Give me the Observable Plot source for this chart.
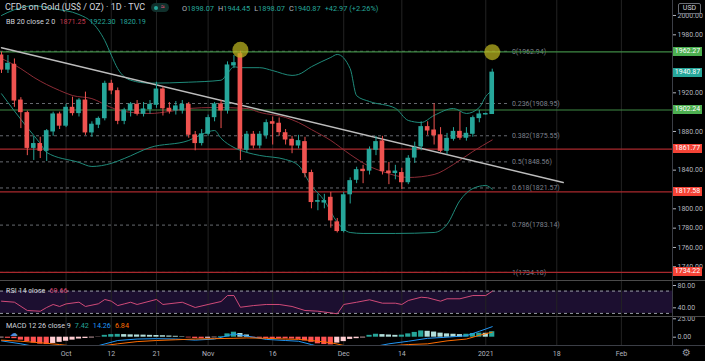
<!DOCTYPE html>
<html><head><meta charset="utf-8">
<script src="https://cdn.jsdelivr.net/npm/d3@7"></script>
<script src="https://cdn.jsdelivr.net/npm/@observablehq/plot@0.6"></script>
<style>
html,body{margin:0;padding:0;background:#000;width:705px;height:361px;overflow:hidden;}
#wrap{position:relative;width:705px;height:361px;background:#000;overflow:hidden;font-family:Roboto,"DejaVu Sans",sans-serif;}
#wrap svg{position:absolute;left:0;display:block;}
.lg{position:absolute;white-space:nowrap;color:#d1d4dc;line-height:1;font-size:7px;}
.lg span{margin-left:4px;}
</style></head><body><div id="wrap"></div>
<script>
// ---------- data ----------
const dates = ["2020-09-17","2020-09-18","2020-09-21","2020-09-22","2020-09-23","2020-09-24","2020-09-25","2020-09-28","2020-09-29","2020-09-30",
"2020-10-01","2020-10-02","2020-10-05","2020-10-06","2020-10-07","2020-10-08","2020-10-09","2020-10-12","2020-10-13","2020-10-14","2020-10-15","2020-10-16","2020-10-19","2020-10-20","2020-10-21","2020-10-22","2020-10-23","2020-10-26","2020-10-27","2020-10-28","2020-10-29","2020-10-30",
"2020-11-02","2020-11-03","2020-11-04","2020-11-05","2020-11-06","2020-11-09","2020-11-10","2020-11-11","2020-11-12","2020-11-13","2020-11-16","2020-11-17","2020-11-18","2020-11-19","2020-11-20","2020-11-23","2020-11-24","2020-11-25","2020-11-26","2020-11-27","2020-11-30",
"2020-12-01","2020-12-02","2020-12-03","2020-12-04","2020-12-07","2020-12-08","2020-12-09","2020-12-10","2020-12-11","2020-12-14","2020-12-15","2020-12-16","2020-12-17","2020-12-18","2020-12-21","2020-12-22","2020-12-23","2020-12-24","2020-12-28","2020-12-29","2020-12-30","2020-12-31",
"2021-01-01","2021-01-04"];
const open = [1958.6,1944,1949,1912,1899,1863,1867,1860,1880,1897.6, 1886,1904.5,1899,1912,1879,1887,1893.7,1929.3,1921.7,1891, 1901.7,1907.6,1898.3,1903,1907.6,1923.4,1903.5,1901.7,1901.7,1907.6, 1876,1868,1877.6,1894.8,1908,1901.7,1948.3,1960,1861,1876.6, 1865.5,1876,1889.6,1888,1878.2,1871.4,1865.5,1869,1837,1807.3, 1806.5,1811.4,1786,1777,1815,1830,1840.4,1839.5,1861,1869.7, 1838.6,1837,1837,1827.5,1853,1864.5,1884.5,1881,1876,1860, 1872.4,1879.6,1873.5,1877.6,1893.8,1897.6,1898.07];
const high = [1962,1958.6,1955,1915,1901,1875,1874,1882,1900,1900, 1908,1915.5,1914,1920.7,1890,1895,1932,1933,1925,1904, 1910,1912,1910,1912,1931,1926,1910,1911,1912,1910, 1880,1882,1897,1910,1912,1952,1958.6,1962.94,1880,1880, 1880,1892,1895,1894,1882,1875,1876,1874,1840,1815, 1815,1817,1790,1817,1832,1843,1845,1864,1875,1875, 1848,1845,1842,1855,1869,1890,1890,1908.7,1884,1878, 1884,1900,1884,1896,1902,1899,1944.45];
const low = [1940,1940,1905,1883,1855,1850,1852,1849,1875,1882, 1884,1896,1895,1876,1874,1883,1891,1918,1887,1887, 1895,1896,1895,1898,1904,1896,1898,1897,1898,1873, 1860,1865,1875,1890,1883,1898,1945,1850,1858,1862, 1862,1872,1866,1875,1866,1857,1862,1832,1800,1798, 1800,1780,1775,1775,1805,1826,1826,1835,1855,1835, 1825,1830,1820,1825,1847,1860,1876,1866,1858,1856, 1870,1871,1870,1874,1889,1897,1898.07];
const close = [1944,1950,1912,1900,1863,1867,1860,1880.3,1897.6,1886, 1904.5,1899,1912,1879,1887,1893,1929.3,1922.4,1891,1901.7, 1908,1898.3,1902.8,1907.6,1923.4,1904,1901,1905.9,1907.6,1876.6, 1868,1877,1893.8,1908,1901.7,1948.3,1950.7,1862.1,1876.6,1865.5, 1876.6,1888.6,1888,1879.3,1871.7,1865.5,1870,1837,1807,1808, 1808,1788,1777,1814,1828.6,1840,1839,1861,1869,1839, 1837,1838.5,1827.5,1851.8,1863,1884.5,1881,1876,1860,1872.4, 1879.6,1873.5,1877.6,1893.8,1897.6,1898.07,1940.87];
const change = 42.97, changePct = 2.26;

// Bollinger Bands (20, 2) read as [bar, price]
const bbUpper = [[0,2000],[2,2006],[5,2010],[8,2007],[12,2001],[14,1993],[16,1974],[17,1959],[18,1945],[20,1933],[23,1930],[29,1931],[34,1933],[35,1940],[36,1947],[37,1946],[40,1946],[42,1943],[45,1938],[46,1939],[48,1947],[51,1956.6],[52,1959.7],[54,1945],[55,1917],[57,1911],[61,1904],[63,1891.4],[65,1889.3],[67,1896.6],[70,1903.8],[72,1898.6],[74,1904.8],[75,1916.2],[76,1922.30]];
const bbBasis = [[0,1955.5],[3,1945],[5,1936],[9,1922.4],[11,1917.2],[14,1914],[17,1904.8],[19,1900.7],[23,1898.6],[26,1900.7],[29,1903.8],[33,1904.8],[38,1903.8],[40,1899.7],[44,1894.5],[46,1889.3],[48,1882],[51,1870.7],[54,1856.2],[57,1843.8],[59,1838.6],[63,1832.4],[67,1835.5],[70,1845.9],[73,1859.3],[76,1871.25]];
const bbLower = [[0,1919],[4,1884],[6,1867.6],[7,1858.3],[12,1848],[14,1843.8],[17,1847],[19,1852],[23,1863.4],[29,1870.7],[31,1877],[33,1881],[34,1873],[36,1863.4],[38,1858.3],[40,1855.2],[44,1851],[46,1844.8],[48,1824],[50,1808.6],[52,1786],[54,1775.5],[56,1774.5],[61,1774.5],[67,1775.5],[69,1783.8],[71,1808.6],[73,1821],[75,1824.1],[76,1820.19]];

// drawings
const trendBar = [0, 87], trendPrice = [1966.6, 1827.2];
const fibRatio = [0, 0.236, 0.382, 0.5, 0.618, 0.786, 1];
const fibPrice = [1962.94, 1908.95, 1875.55, 1848.56, 1821.57, 1783.14, 1734.18];
const srPrice = [1962.27, 1902.24, 1861.77, 1817.58, 1734.22];
const srTrend = ["bull","bull","bear","bear","bear"];
const markBar = [37, 76], markPrice = [1964.5, 1962];

// RSI 14 read as [bar, value]
const rsi = [[0,51.9],[2,50.1],[4,35.2],[6,33.9],[7,40.6],[8,46],[9,42.4],[10,47],[12,50.1],[13,42.4],[15,47.2],[16,54.9],[17,52],[18,44],[19,47],[20,50],[21,46],[24,55],[25,46],[28,50],[30,40.6],[32,46],[34,51.3],[35,62],[36,62],[37,41],[39,44],[41,46],[43,46],[45,42.4],[47,35.2],[49,34],[52,29.3],[53,46],[55,50],[57,54.4],[59,48.3],[61,48.3],[62,46],[63,53.1],[65,59],[66,58],[68,51.9],[69,56.2],[71,56.2],[73,62],[75,62],[76,69.66]];
const rsiBand = [30, 70];

// MACD 12 26 9
const macdHist = [-1,-1.5,-2,-4,-6,-8,-9.5,-10,-8.5,-7, -5.5,-4,-2.5,-1.8,-1,-0.3,2.5,3.5,3.8,3.5, 3.2,3,2.8,2.5,2.3,2,1.6,1.2,0.6,-1, -1.8,-2,-1.5,-0.8,1,4.5,6.8,5,3,-1, -1.5,-1.8,-2,-2.1,-2.2,-2.5,-3,-5,-7,-9, -10,-10.5,-8,-6,-3,-2,-1,2.5,4,3.5, 3,2.5,2.8,4.5,6.5,8.5,8,7,5.5,4.5, 4,3.5,4,5,5.5,5.3,7.42];
const macdLine = [[0,-5],[3,-9],[6,-14],[9,-17],[12,-16],[15,-11.5],[18,-4.5],[21,-2.5],[24,-2],[27,-2.5],[30,-4],[33,-2.5],[35,2],[36,4.5],[38,1.5],[41,-3],[44,-4.5],[46,-5.5],[48,-10],[51,-17],[54,-19],[57,-14],[60,-9],[63,-5.5],[66,-1.5],[69,0],[72,2],[74,8],[76,14.26]];
const macdSignal = [[0,-4],[3,-5.5],[6,-7.5],[9,-10],[12,-13],[15,-12.5],[18,-9],[21,-6],[24,-4.5],[27,-3.5],[30,-2.5],[33,-2],[36,-1.5],[38,-1],[41,-1.5],[44,-2.5],[46,-3],[48,-4.5],[51,-7.5],[54,-13],[57,-16],[60,-12],[63,-10],[66,-9],[69,-5],[72,-2.5],[74,2.5],[76,6.84]];

// axes
const priceTicks = [2000, 1980, 1920, 1880, 1840, 1800, 1780, 1760, 1740];
const rsiTicks = [80, 40];
const macdTicks = [25, 0];
const timeTicks = [10, 17, 24, 32, 42, 53, 62, 75, 86, 96];
const timeLabels = ["Oct","12","21","Nov","16","Dec","14","2021","18","Feb"];

// ---------- build ----------
const UP = "#26a69a", DOWN = "#ef5350";
const wrap = document.getElementById("wrap");
const bars = dates.map((d,i)=>({i, o:open[i], h:high[i], l:low[i], c:close[i]}));
const pairs = a => a.map(([i,v])=>({i,v}));
const fib = fibRatio.map((r,k)=>({r, p:fibPrice[k]}));
const sr = srPrice.map((p,k)=>({p, k:srTrend[k]}));
const marks = markBar.map((i,k)=>({i, p:markPrice[k]}));
const trend = trendBar.map((i,k)=>({i, p:trendPrice[k]}));
const xDomain = [-0.155, 103.92];
const FIB_END = 78.7;
const GRID = "#232323";
const baseStyle = {background:"transparent", color:"#b2b5be", fontFamily:"Roboto, 'DejaVu Sans', sans-serif", fontSize:"7px", overflow:"visible"};
const fmt2 = d => d.toFixed(2);

const main = Plot.plot({
  width:705, height:281, marginTop:0, marginBottom:0, marginLeft:0, marginRight:33,
  style: baseStyle,
  x: {domain: xDomain, axis: null},
  y: {domain: [1724.8, 2015.5]},
  marks: [
    Plot.ruleX(timeTicks, {stroke: GRID}),
    Plot.ruleY(fib, {y:"p", x1:()=>xDomain[0], x2:()=>FIB_END, stroke:"#8a8d96", strokeOpacity:0.75, strokeDasharray:"3,3"}),
    Plot.text(fib, {x:()=>FIB_END+0.35, y:"p", text:d=>`${d.r}(${d.p.toFixed(2)})`, textAnchor:"start", fill:"#7e818c", fontSize:7}),
    Plot.ruleY(sr, {y:"p", stroke:d=>d.k==="bull" ? "#3f8a45" : "#a8282d", strokeWidth:1.2}),
    Plot.line(pairs(bbUpper), {x:"i", y:"v", stroke:"#1f8a7a", strokeWidth:1, curve:"monotone-x"}),
    Plot.line(pairs(bbLower), {x:"i", y:"v", stroke:"#1f8a7a", strokeWidth:1, curve:"monotone-x"}),
    Plot.line(pairs(bbBasis), {x:"i", y:"v", stroke:"#8c2c36", strokeWidth:1, curve:"monotone-x"}),
    Plot.line(trend, {x:"i", y:"p", stroke:"#bdbdbd", strokeWidth:1.4}),
    Plot.ruleX(bars, {x:"i", y1:"l", y2:"h", stroke:d=>d.c>=d.o?UP:DOWN, strokeWidth:1}),
    Plot.rect(bars, {x1:d=>d.i-0.36, x2:d=>d.i+0.36, y1:"o", y2:"c", fill:d=>d.c>=d.o?UP:DOWN, insetTop:-0.5, insetBottom:-0.5}),
    Plot.dot(marks, {x:"i", y:"p", r:8, fill:"#bdb520", fillOpacity:0.72, stroke:null}),
    Plot.axisY(priceTicks, {anchor:"right", tickSize:3, tickPadding:2, tickFormat:fmt2, label:null, fontSize:7})
  ]
});
main.style.top = "0px";
wrap.appendChild(main);

const rsiPlot = Plot.plot({
  width:705, height:35, marginTop:0, marginBottom:0, marginLeft:0, marginRight:33,
  style: baseStyle,
  x: {domain: xDomain, axis: null},
  y: {domain: [24.45, 87.17]},
  marks: [
    Plot.rect([rsiBand], {x1:()=>xDomain[0], x2:()=>xDomain[1], y1:d=>d[0], y2:d=>d[1], fill:"#1c0f30"}),
    Plot.ruleX(timeTicks, {stroke: GRID}),
    Plot.ruleY(rsiBand, {stroke:"#9a9da6", strokeDasharray:"3,3"}),
    Plot.line(pairs(rsi), {x:"i", y:"v", stroke:"#d04a78", strokeWidth:1, clip:true}),
    Plot.axisY(rsiTicks, {anchor:"right", tickSize:3, tickPadding:2, tickFormat:fmt2, label:null, fontSize:7})
  ]
});
rsiPlot.style.top = "281px";
wrap.appendChild(rsiPlot);

const hist = macdHist.map((v,i)=>({i, v, prev: i ? macdHist[i-1] : v}));
const histColor = d => d.v >= 0 ? (d.v >= d.prev ? "#26a69a" : "#b2dfdb") : (d.v < d.prev ? "#ff5252" : "#ffcdd2");
const macdPlot = Plot.plot({
  width:705, height:45, marginTop:0, marginBottom:16, marginLeft:0, marginRight:33,
  style: baseStyle,
  x: {domain: xDomain},
  y: {domain: [-11.28, 28.1]},
  marks: [
    Plot.ruleX(timeTicks, {stroke: GRID}),
    Plot.rect(hist, {x1:d=>d.i-0.4, x2:d=>d.i+0.4, y1:()=>0, y2:"v", fill:histColor, clip:true}),
    Plot.line(pairs(macdLine), {x:"i", y:"v", stroke:"#2196f3", strokeWidth:1, clip:true}),
    Plot.line(pairs(macdSignal), {x:"i", y:"v", stroke:"#ff6d00", strokeWidth:1, clip:true}),
    Plot.axisY(macdTicks, {anchor:"right", tickSize:3, tickPadding:2, tickFormat:fmt2, label:null, fontSize:7}),
    Plot.axisX(timeTicks, {anchor:"bottom", tickSize:0, tickPadding:6, tickFormat:d=>timeLabels[timeTicks.indexOf(d)], label:null, fontSize:7})
  ]
});
macdPlot.style.top = "316px";
wrap.appendChild(macdPlot);

// ---------- overlays ----------
function div(css, html) {
  const d = document.createElement("div");
  d.className = "lg"; if (html !== undefined) d.innerHTML = html;
  Object.assign(d.style, css); wrap.appendChild(d); return d;
}
// pane separators / axis border
div({left:"672px", top:"0px", width:"1px", height:"345px", background:"#3b3e46"});
div({left:"0px", top:"280px", width:"705px", height:"1px", background:"#4a4a4a"});
div({left:"0px", top:"316px", width:"705px", height:"1px", background:"#4a4a4a"});
div({left:"0px", top:"345px", width:"705px", height:"1px", background:"#3b3e46"});

// price axis labels
const ys = main.scale("y");
const last = bars[bars.length-1];
const boxes = [
  {p: srPrice[0], bg:"#4caf50"},
  {p: last.c, bg:"#26a69a"},
  {p: srPrice[1], bg:"#4caf50"},
  {p: srPrice[2], bg:"#f44336"},
  {p: srPrice[3], bg:"#f44336"},
  {p: srPrice[4], bg:"#f44336"}
];
for (const b of boxes) {
  const y = ys.apply(b.p);
  div({left:"673px", top:(y-4.5)+"px", width:"29px", height:"9px", background:b.bg, color:"#fff",
       fontSize:"7px", lineHeight:"9px", textAlign:"center"}, b.p.toFixed(2));
}
div({left:"678px", top:"3px", width:"21px", height:"9px", border:"1px solid #6a6d75", borderRadius:"2px",
     color:"#d1d4dc", fontSize:"7px", lineHeight:"9px", textAlign:"center"}, "USD");

// legends
div({left:"5px", top:"2.5px", fontSize:"9px"}, "CFDs on Gold (US$ / OZ) · 1D · TVC");
div({left:"151px", top:"3px", width:"18px", height:"9px", background:"#10302c", borderRadius:"5px"},
    `<div style="position:absolute;left:3px;top:2.5px;width:4px;height:4px;border-radius:2px;background:#26a69a"></div><div style="position:absolute;left:10px;top:1px;width:6px;height:7px;color:#e0507a;font-size:7px;line-height:7px">≈</div>`);
const g = t => `<span style="margin-left:4px;color:#b2b5be">${t}</span>`;
const v = (t,c) => `<span style="margin-left:0;color:${c}">${t}</span>`;
div({left:"178px", top:"4.5px", fontSize:"7.4px"},
  g("O")+v(last.o.toFixed(2),UP)+g("H")+v(last.h.toFixed(2),UP)+g("L")+v(last.l.toFixed(2),UP)+g("C")+v(last.c.toFixed(2),UP)+
  `<span style="color:${UP}">+${change.toFixed(2)} (+${changePct.toFixed(2)}%)</span>`);
const lastOf = a => a[a.length-1][1];
div({left:"6px", top:"17.5px", fontSize:"7.2px"},
  `BB 20 close 2 0<span style="color:#c23a4f">${lastOf(bbBasis).toFixed(2)}</span><span style="color:${UP}">${lastOf(bbUpper).toFixed(2)}</span><span style="color:${UP}">${lastOf(bbLower).toFixed(2)}</span>`);
div({left:"6px", top:"286.5px", fontSize:"7.2px"},
  `RSI 14 close<span style="color:#d04a78">${lastOf(rsi).toFixed(2)}</span>`);
div({left:"6px", top:"322px", fontSize:"7.2px"},
  `MACD 12 26 close 9<span style="color:${UP}">${macdHist[macdHist.length-1].toFixed(2)}</span><span style="color:#2196f3">${lastOf(macdLine).toFixed(2)}</span><span style="color:#ff6d00">${lastOf(macdSignal).toFixed(2)}</span>`);
div({left:"10px", top:"330px", fontSize:"8px", color:"#4f8fd6"}, "☁");
div({left:"682px", top:"348px", fontSize:"10px", color:"#9598a1"}, "⚙");
</script></body></html>
